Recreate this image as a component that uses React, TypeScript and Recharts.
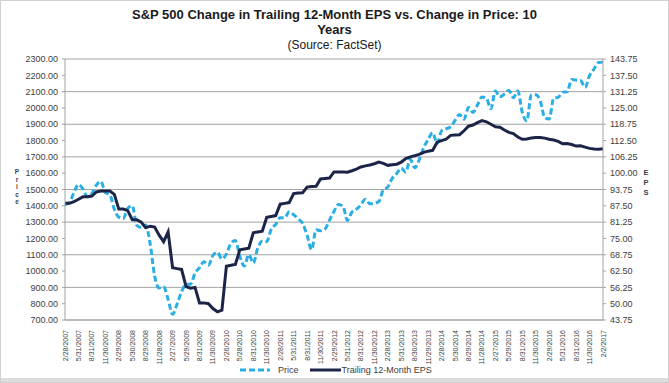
import { LineChart, Line, XAxis, YAxis, CartesianGrid, Legend } from "recharts"

// month-end dates, Feb 2007 .. Feb 2017
const dates = [
  "2/28/2007", "3/30/2007", "4/30/2007", "5/31/2007", "6/29/2007", "7/31/2007", "8/31/2007", "9/28/2007", "10/31/2007", "11/30/2007", "12/31/2007",
  "1/31/2008", "2/29/2008", "3/31/2008", "4/30/2008", "5/30/2008", "6/30/2008", "7/31/2008", "8/29/2008", "9/30/2008", "10/31/2008", "11/28/2008", "12/31/2008",
  "1/30/2009", "2/27/2009", "3/31/2009", "4/30/2009", "5/29/2009", "6/30/2009", "7/31/2009", "8/31/2009", "9/30/2009", "10/30/2009", "11/30/2009", "12/31/2009",
  "1/29/2010", "2/26/2010", "3/31/2010", "4/30/2010", "5/28/2010", "6/30/2010", "7/30/2010", "8/31/2010", "9/30/2010", "10/29/2010", "11/30/2010", "12/31/2010",
  "1/31/2011", "2/28/2011", "3/31/2011", "4/29/2011", "5/31/2011", "6/30/2011", "7/29/2011", "8/31/2011", "9/30/2011", "10/31/2011", "11/30/2011", "12/30/2011",
  "1/31/2012", "2/29/2012", "3/30/2012", "4/30/2012", "5/31/2012", "6/29/2012", "7/31/2012", "8/31/2012", "9/28/2012", "10/31/2012", "11/30/2012", "12/31/2012",
  "1/31/2013", "2/28/2013", "3/28/2013", "4/30/2013", "5/31/2013", "6/28/2013", "7/31/2013", "8/30/2013", "9/30/2013", "10/31/2013", "11/29/2013", "12/31/2013",
  "1/31/2014", "2/28/2014", "3/31/2014", "4/30/2014", "5/30/2014", "6/30/2014", "7/31/2014", "8/29/2014", "9/30/2014", "10/31/2014", "11/28/2014", "12/31/2014",
  "1/30/2015", "2/27/2015", "3/31/2015", "4/30/2015", "5/29/2015", "6/30/2015", "7/31/2015", "8/31/2015", "9/30/2015", "10/30/2015", "11/30/2015", "12/31/2015",
  "1/29/2016", "2/29/2016", "3/31/2016", "4/29/2016", "5/31/2016", "6/30/2016", "7/29/2016", "8/31/2016", "9/30/2016", "10/31/2016", "11/30/2016", "12/30/2016",
  "1/31/2017", "2/2/2017",
]

const price = [
  1406.82, 1420.86, 1482.37, 1530.62, 1503.35, 1455.27, 1473.99, 1526.75, 1549.38, 1481.14, 1468.36,
  1378.55, 1330.63, 1322.7, 1385.59, 1400.38, 1280.0, 1267.38, 1282.83, 1166.36, 968.75, 896.24, 903.25,
  825.88, 735.09, 797.87, 872.81, 919.14, 919.32, 987.48, 1020.62, 1057.08, 1036.19, 1095.63, 1115.1,
  1073.87, 1104.49, 1169.43, 1186.69, 1089.41, 1030.71, 1101.6, 1049.33, 1141.2, 1183.26, 1180.55, 1257.64,
  1286.12, 1327.22, 1325.83, 1363.61, 1345.2, 1320.64, 1292.28, 1218.89, 1131.42, 1253.3, 1246.96, 1257.6,
  1312.41, 1365.68, 1408.47, 1397.91, 1310.33, 1362.16, 1379.32, 1406.58, 1440.67, 1412.16, 1416.18, 1426.19,
  1498.11, 1514.68, 1569.19, 1597.57, 1630.74, 1606.28, 1685.73, 1632.97, 1681.55, 1756.54, 1805.81, 1848.36,
  1782.59, 1859.45, 1872.34, 1883.95, 1923.57, 1960.23, 1930.67, 2003.37, 1972.29, 2018.05, 2067.56, 2058.9,
  1994.99, 2104.5, 2067.89, 2085.51, 2107.39, 2063.11, 2103.84, 1972.18, 1920.03, 2079.36, 2080.41, 2043.94,
  1940.24, 1932.23, 2059.74, 2065.3, 2096.95, 2098.86, 2173.6, 2170.95, 2168.27, 2126.15, 2198.81, 2238.83,
  2278.87, 2280.85,
]

const eps = [
  88.44, 88.44, 89.06, 90.0, 90.94, 90.94, 91.25, 92.81, 93.13, 93.13, 93.13,
  91.88, 86.25, 86.25, 85.63, 82.19, 82.19, 81.25, 79.06, 79.69, 79.38, 76.25, 73.75,
  77.5, 63.75, 63.44, 63.13, 56.56, 55.94, 56.25, 50.31, 50.31, 50.0, 48.13, 46.88,
  47.5, 64.38, 64.69, 65.0, 70.63, 70.94, 71.25, 77.19, 77.5, 77.81, 83.13, 83.44,
  83.75, 88.13, 88.44, 88.75, 92.19, 92.38, 92.5, 94.69, 94.88, 95.0, 97.81, 98.0,
  98.13, 100.5, 100.5, 100.5, 100.38, 100.94, 101.56, 102.38, 102.81, 103.13, 103.63, 104.25,
  103.75, 103.0, 103.25, 103.44, 104.25, 105.63, 106.25, 106.69, 107.19, 108.0, 108.44, 108.75,
  111.88, 112.5, 113.0, 114.5, 114.63, 114.75, 116.25, 118.0, 118.44, 119.38, 120.13, 119.69,
  118.75, 117.81, 117.63, 116.56, 115.63, 115.19, 113.88, 113.0, 113.13, 113.44, 113.63, 113.63,
  113.44, 113.0, 112.69, 112.19, 111.25, 111.38, 111.0, 110.38, 110.5, 110.0, 109.5, 109.25,
  109.13, 109.38,
]

const priceTicks = [700, 800, 900, 1000, 1100, 1200, 1300, 1400, 1500, 1600, 1700, 1800, 1900, 2000, 2100, 2200, 2300]
const epsTicks = [43.75, 50, 56.25, 62.5, 68.75, 75, 81.25, 87.5, 93.75, 100, 106.25, 112.5, 118.75, 125, 131.25, 137.5, 143.75]

const data = dates.map((d, i) => ({ date: d, price: price[i], eps: eps[i] }))

const FONT = "'Liberation Sans', Arial, sans-serif"
const LIGHT_BLUE = "#2aaee3"
const NAVY = "#1c2548"
const GRID = "#a3a3a3"
const TEXT = "#404040"

const DateTick = (props: any) => {
  const { x, y, payload } = props
  return (
    <g transform={`translate(${x},${y})`}>
      <text transform="rotate(-90)" x={-2} y={0} dy={2.5} textAnchor="end" fontSize={7} fill={TEXT} fontFamily={FONT}>
        {payload.value}
      </text>
    </g>
  )
}

const StackedLabel = ({ viewBox, letters, dx, cy, step, size }: any) => {
  const x = viewBox.x + dx
  return (
    <text fontSize={size} fontWeight="bold" fill={TEXT} fontFamily={FONT} textAnchor="middle">
      {letters.split("").map((c: string, i: number) => (
        <tspan key={i} x={x} y={cy + i * step}>
          {c}
        </tspan>
      ))}
    </text>
  )
}

const LegendContent = () => (
  <div style={{ display: "flex", alignItems: "center", fontFamily: FONT, fontSize: 9, color: TEXT }}>
    <svg width={30} height={6}>
      <line x1={0} y1={3} x2={30} y2={3} stroke={LIGHT_BLUE} strokeWidth={3} strokeDasharray="6 3" />
    </svg>
    <span style={{ marginLeft: 8 }}>Price</span>
    <svg width={31} height={6} style={{ marginLeft: 11 }}>
      <line x1={0} y1={3} x2={31} y2={3} stroke={NAVY} strokeWidth={3} />
    </svg>
    <span style={{ marginLeft: 1 }}>Trailing 12-Month EPS</span>
  </div>
)

export default function App() {
  return (
    <div
      style={{
        position: "absolute",
        left: 0,
        top: 0,
        width: 667,
        height: 381,
        border: "1px solid #d0d0d0",
        background: "#fff",
        fontFamily: FONT,
      }}
    >
      <div style={{ position: "absolute", top: 6, width: "100%", textAlign: "center", fontWeight: "bold", fontSize: 13, color: "#1a1a1a", lineHeight: "15px" }}>
        S&amp;P 500 Change in Trailing 12-Month EPS vs. Change in Price: 10
        <br />
        Years
      </div>
      <div style={{ position: "absolute", top: 37, width: "100%", textAlign: "center", fontSize: 12, color: "#1a1a1a" }}>
        (Source: FactSet)
      </div>
      <div style={{ position: "absolute", left: 0, bottom: 0, width: "100%", height: 4, background: "#dcdcdc" }} />
      <LineChart width={667} height={383} data={data} margin={{ top: 59, right: 7, left: 8, bottom: 0 }} style={{ position: "absolute", left: -1, top: -1 }}>
        <CartesianGrid vertical={false} stroke={GRID} yAxisId="left" />
        <XAxis
          dataKey="date"
          interval={2}
          height={63}
          tick={<DateTick />}
          tickLine={false}
          axisLine={{ stroke: GRID }}
        />
        <YAxis
          yAxisId="left"
          domain={[700, 2300]}
          ticks={priceTicks}
          width={57}
          tickFormatter={(v: number) => v.toFixed(2)}
          tick={{ fontSize: 9, fill: TEXT, fontFamily: FONT }}
          tickSize={3}
          tickMargin={4}
          tickLine={{ stroke: GRID }}
          axisLine={{ stroke: GRID }}
          label={{ content: (p: any) => <StackedLabel {...p} letters="Price" dx={9} cy={174} step={7.5} size={6.5} /> }}
        />
        <YAxis
          yAxisId="right"
          orientation="right"
          domain={[43.75, 143.75]}
          ticks={epsTicks}
          width={57}
          tickFormatter={(v: number) => v.toFixed(2)}
          tick={{ fontSize: 9, fill: TEXT, fontFamily: FONT }}
          tickSize={3}
          tickMargin={4}
          tickLine={{ stroke: GRID }}
          axisLine={{ stroke: GRID }}
          label={{ content: (p: any) => <StackedLabel {...p} letters="EPS" dx={43} cy={175} step={10} size={7.5} /> }}
        />
        <Legend
          layout="horizontal"
          verticalAlign="middle"
          align="center"
          content={<LegendContent />}
          wrapperStyle={{ top: 365, left: 240, width: "auto" }}
        />
        <Line
          yAxisId="left"
          dataKey="price"
          name="Price"
          type="monotone"
          stroke={LIGHT_BLUE}
          strokeWidth={3}
          strokeDasharray="6 3"
          dot={false}
          isAnimationActive={false}
        />
        <Line
          yAxisId="right"
          dataKey="eps"
          name="Trailing 12-Month EPS"
          type="linear"
          stroke={NAVY}
          strokeWidth={3}
          dot={false}
          isAnimationActive={false}
        />
      </LineChart>
    </div>
  )
}
